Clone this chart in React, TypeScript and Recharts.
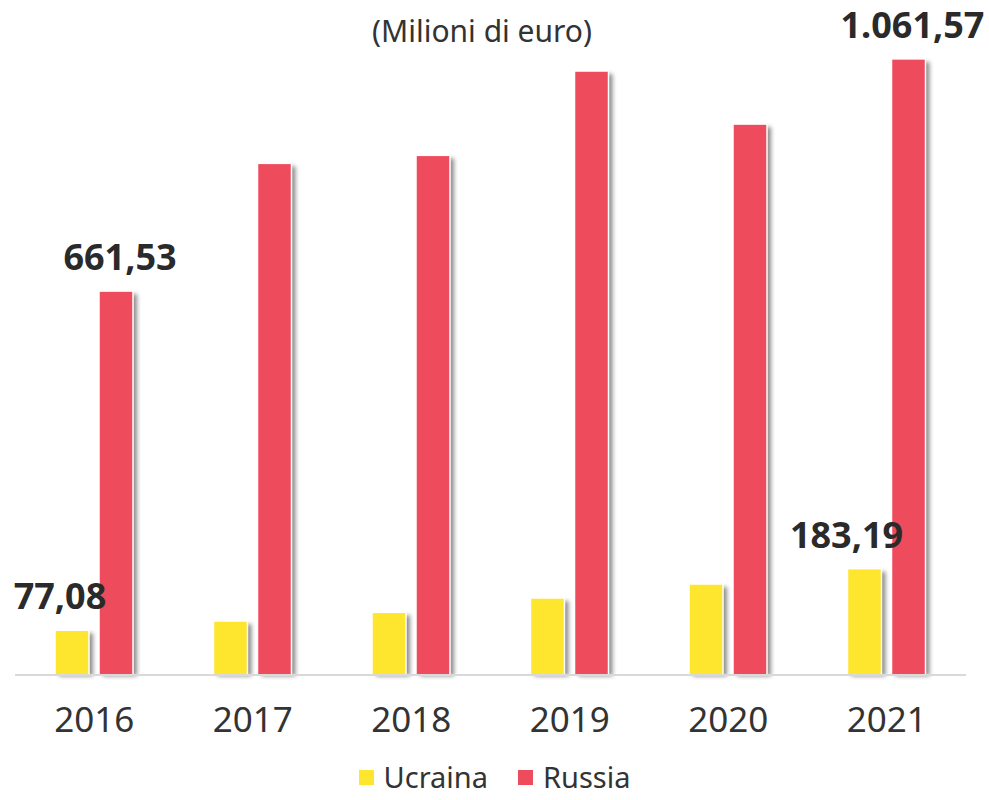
import { Bar, BarChart, LabelList, Legend, XAxis, YAxis } from 'recharts';

const years = ['2016', '2017', '2018', '2019', '2020', '2021'];
const ucraina = [77.08, 93, 108, 132.7, 156.8, 183.19];
const russia = [661.53, 881.6, 895.4, 1040.7, 949.3, 1061.57];
const shownLabels = [0, 5];

const YELLOW = '#FEE52E';
const RED = '#EE4B5D';
const FONT = '"Noto Sans", "Open Sans", sans-serif';

const data = years.map((year, i) => ({
  year,
  ucraina: ucraina[i],
  russia: russia[i],
}));

const formatIt = (v: number): string =>
  v.toLocaleString('it-IT', { minimumFractionDigits: 2, maximumFractionDigits: 2 });

const ShadowBar = (props: any) => {
  const { x, y, width, height, fill } = props;
  if (!height || height <= 0) return null;
  return (
    <g>
      <rect
        x={x + 4}
        y={y + 3}
        width={width}
        height={height - 2}
        fill="#7a7a7a"
        opacity={0.85}
        filter="url(#barShadow)"
      />
      <rect x={x} y={y} width={width} height={height} fill={fill} stroke="#fff" strokeWidth={1.5} />
    </g>
  );
};

const makeLabel = (offsets: Record<number, number>) => (props: any) => {
  const { x, y, width, value, index } = props;
  if (!shownLabels.includes(index)) return null;
  return (
    <text
      x={x + width / 2 + (offsets[index] ?? 0)}
      y={y - 21}
      textAnchor="middle"
      fontFamily={FONT}
      fontWeight={700}
      fontSize={36}
      fill="#2a2a2a"
    >
      {formatIt(value)}
    </text>
  );
};

const LegendContent = () => (
  <div
    style={{
      display: 'flex',
      justifyContent: 'center',
      alignItems: 'center',
      fontFamily: FONT,
      fontSize: 29,
      lineHeight: '30px',
      color: '#333',
      marginTop: 12,
      paddingLeft: 8,
    }}
  >
    <span style={{ width: 15, height: 15, background: YELLOW, marginRight: 10 }} />
    <span style={{ marginRight: 30 }}>Ucraina</span>
    <span style={{ width: 15, height: 15, background: RED, marginRight: 10 }} />
    <span>Russia</span>
  </div>
);

export default function App() {
  return (
    <div style={{ position: 'absolute', left: 0, top: 0, width: 989, height: 800, background: '#fff' }}>
      <svg width={0} height={0} style={{ position: 'absolute' }}>
        <defs>
          <filter id="barShadow" x="-50%" y="-10%" width="200%" height="120%">
            <feGaussianBlur stdDeviation="2" />
          </filter>
        </defs>
      </svg>
      <div
        style={{
          position: 'absolute',
          top: 10,
          left: 0,
          width: 964,
          textAlign: 'center',
          fontFamily: FONT,
          fontSize: 30,
          color: '#333',
        }}
      >
        (Milioni di euro)
      </div>
      <BarChart
        width={989}
        height={800}
        data={data}
        margin={{ top: 36.6, right: 23, bottom: 0, left: 15 }}
        barCategoryGap="25%"
        barGap={10}
      >
        <XAxis
          dataKey="year"
          height={75}
          tickLine={false}
          axisLine={{ stroke: '#d9d9d9', strokeWidth: 2 }}
          tickMargin={26}
          tick={{ fontSize: 35, fill: '#333', fontFamily: FONT }}
        />
        <YAxis hide domain={[0, 1100]} />
        <Legend verticalAlign="bottom" height={50} content={<LegendContent />} />
        <Bar dataKey="ucraina" fill={YELLOW} barSize={34} shape={<ShadowBar />} isAnimationActive={false}>
          <LabelList dataKey="ucraina" content={makeLabel({ 0: -12, 5: -18 })} />
        </Bar>
        <Bar dataKey="russia" fill={RED} barSize={34} shape={<ShadowBar />} isAnimationActive={false}>
          <LabelList dataKey="russia" content={makeLabel({ 0: 4, 5: 4 })} />
        </Bar>
      </BarChart>
    </div>
  );
}
